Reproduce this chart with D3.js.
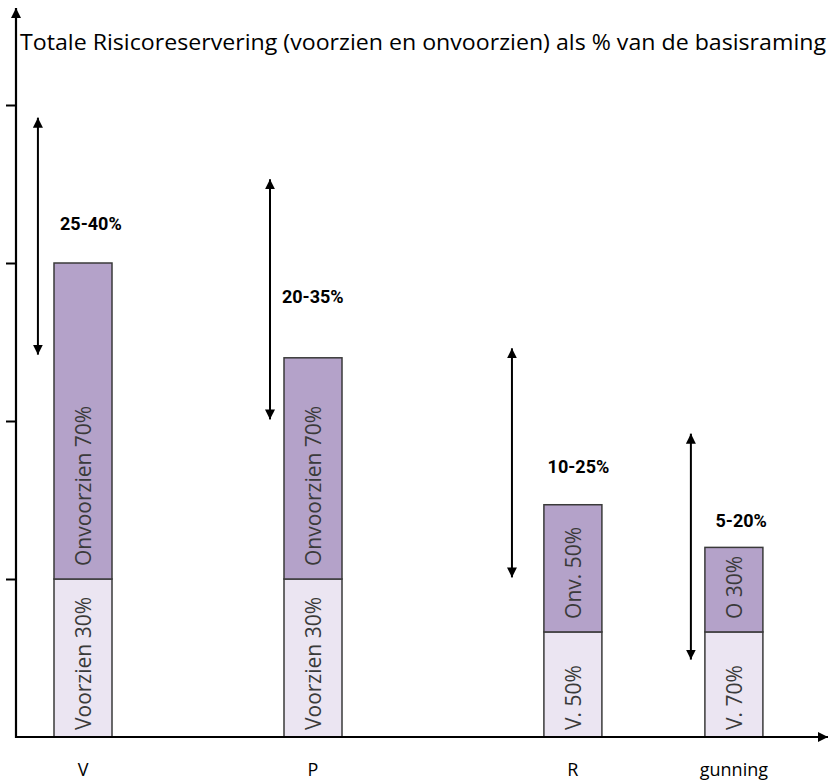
<!DOCTYPE html>
<html>
<head>
<meta charset="utf-8">
<script src="https://cdn.jsdelivr.net/npm/d3@7"></script>
<style>
  body { margin: 0; background: #fff; }
  svg { display: block; }
</style>
</head>
<body>
<svg id="chart" width="830" height="783"></svg>
<script>
// phases and where they sit on the process line
const categories = ["V", "P", "R", "gunning"];
const stage = [0, 1, 2.13, 2.83];

// stacked bar values (same units as the y axis)
const voorzien = [10, 10, 6.65, 6.65];
const onvoorzien = [20, 14, 8.05, 5.35];
const voorzienLabels = ["Voorzien 30%", "Voorzien 30%", "V. 50%", "V. 70%"];
const onvoorzienLabels = ["Onvoorzien 70%", "Onvoorzien 70%", "Onv. 50%", "O 30%"];

// range arrows next to each bar
const rangeLow = [24.2, 20.1, 10.1, 4.9];
const rangeHigh = [39.2, 35.3, 24.6, 19.2];
const rangeLabels = ["25-40%", "20-35%", "10-25%", "5-20%"];
const arrowStage = [-0.196, 0.813, 1.865, 2.643];

const yTicks = [10, 20, 30, 40];

// label placement for the range texts
const rangeLabelStage = [-0.1, 0.865, 2.02, 2.75];
const rangeLabelAt = [32.5, 27.85, 17.15, 13.7];

const svg = d3.select("#chart");
const width = 830, height = 783;
const margin = { top: 8, right: 2, bottom: 46, left: 16 };

const x = d3.scaleLinear().domain([0, 1]).range([83, 313]);
const y = d3.scaleLinear().domain([0, 46]).range([height - margin.bottom, height - margin.bottom - 46 * 15.8]);
const barW = 58;
const y0 = y(0);

const defs = svg.append("defs");
defs.append("marker")
  .attr("id", "head")
  .attr("markerUnits", "userSpaceOnUse")
  .attr("viewBox", "0 0 10 10")
  .attr("refX", 10).attr("refY", 5)
  .attr("markerWidth", 10).attr("markerHeight", 10)
  .attr("orient", "auto-start-reverse")
  .append("path")
  .attr("d", "M0,0 L10,5 L0,10 z")
  .attr("fill", "#000");

// title
svg.append("text")
  .attr("x", 20).attr("y", 50)
  .attr("font-family", "Open Sans, sans-serif")
  .attr("font-size", 21)
  .attr("textLength", 806)
  .attr("lengthAdjust", "spacingAndGlyphs")
  .attr("fill", "#000")
  .text("Totale Risicoreservering (voorzien en onvoorzien) als % van de basisraming");

// y ticks (no labels)
svg.append("g")
  .attr("transform", `translate(${margin.left},0)`)
  .call(d3.axisLeft(y).tickValues(yTicks).tickSize(10).tickFormat(""))
  .call(g => g.select(".domain").remove())
  .call(g => g.selectAll("line").attr("stroke", "#000").attr("stroke-width", 2));

// bars
const bars = svg.append("g");
categories.forEach((c, i) => {
  const cx = x(stage[i]);
  const split = voorzien[i];
  const top = voorzien[i] + onvoorzien[i];

  bars.append("rect")
    .attr("x", cx - barW / 2).attr("y", y(split))
    .attr("width", barW).attr("height", y0 - y(split))
    .attr("fill", "#ebe5f2").attr("stroke", "#3a3a3a").attr("stroke-width", 1.5);

  bars.append("rect")
    .attr("x", cx - barW / 2).attr("y", y(top))
    .attr("width", barW).attr("height", y(split) - y(top))
    .attr("fill", "#b4a2c9").attr("stroke", "#3a3a3a").attr("stroke-width", 1.5);

  bars.append("text")
    .attr("transform", `translate(${cx},${y0 - 7}) rotate(-90)`)
    .attr("dominant-baseline", "central")
    .attr("font-family", "Open Sans, sans-serif")
    .attr("font-size", 21)
    .attr("fill", "#3a3a3a")
    .text(voorzienLabels[i]);

  bars.append("text")
    .attr("transform", `translate(${cx},${y(split) - 13}) rotate(-90)`)
    .attr("dominant-baseline", "central")
    .attr("font-family", "Open Sans, sans-serif")
    .attr("font-size", 21)
    .attr("fill", "#3a3a3a")
    .text(onvoorzienLabels[i]);

  // category label
  svg.append("text")
    .attr("x", cx).attr("y", 776)
    .attr("text-anchor", "middle")
    .attr("font-family", "Open Sans, sans-serif")
    .attr("font-size", 18)
    .attr("fill", "#000")
    .text(c);
});

// range arrows
categories.forEach((c, i) => {
  const ax = x(arrowStage[i]);
  svg.append("line")
    .attr("x1", ax).attr("x2", ax)
    .attr("y1", y(rangeLow[i])).attr("y2", y(rangeHigh[i]))
    .attr("stroke", "#000").attr("stroke-width", 2)
    .attr("marker-start", "url(#head)")
    .attr("marker-end", "url(#head)");

  svg.append("text")
    .attr("x", x(rangeLabelStage[i])).attr("y", y(rangeLabelAt[i]))
    .attr("dominant-baseline", "central")
    .attr("font-family", "Roboto, sans-serif")
    .attr("font-weight", "bold")
    .attr("font-size", 18)
    .attr("fill", "#000")
    .text(rangeLabels[i]);
});

// axes with arrowheads
svg.append("line")
  .attr("x1", margin.left).attr("x2", margin.left)
  .attr("y1", y0 + 1).attr("y2", margin.top)
  .attr("stroke", "#000").attr("stroke-width", 2.2)
  .attr("marker-end", "url(#head)");

svg.append("line")
  .attr("x1", margin.left - 1).attr("x2", width - margin.right)
  .attr("y1", y0).attr("y2", y0)
  .attr("stroke", "#000").attr("stroke-width", 2.2)
  .attr("marker-end", "url(#head)");
</script>
</body>
</html>
